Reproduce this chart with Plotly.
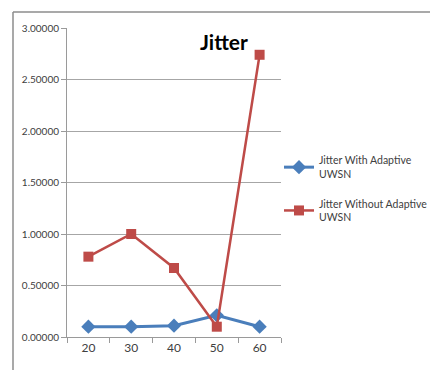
import plotly.graph_objects as go

# Node counts on the x axis and jitter values per series
nodes = ["20", "30", "40", "50", "60"]
jitter_adaptive = [0.10, 0.10, 0.11, 0.21, 0.10]
jitter_without = [0.78, 1.00, 0.67, 0.10, 2.74]
y_ticks = [0.0, 0.5, 1.0, 1.5, 2.0, 2.5, 3.0]

W, H = 430, 370
FONT = "Lato, Open Sans, sans-serif"

# plot-area pixel box
px_left, px_right = 67, 281
px_top, px_bottom = 28, 337

idx = list(range(len(nodes)))

fig = go.Figure()
fig.add_trace(go.Scatter(
    x=idx, y=jitter_adaptive, mode="lines+markers",
    name="Jitter With Adaptive<br>UWSN", legendgroup="a",
    line=dict(color="#4A7EBB", width=3),
    marker=dict(symbol="diamond", size=11, color="#4A7EBB"),
))
fig.add_trace(go.Scatter(
    x=idx, y=jitter_without, mode="lines+markers",
    name="Jitter Without Adaptive<br>UWSN", legendgroup="b",
    line=dict(color="#BE4B48", width=2.5),
    marker=dict(symbol="square", size=10, color="#BE4B48"),
))

fig.update_layout(
    width=W, height=H,
    margin=dict(l=0, r=0, t=0, b=0, autoexpand=False),
    paper_bgcolor="white", plot_bgcolor="white",
    font=dict(family=FONT, size=11, color="#404040"),
    showlegend=True,
    legend=dict(
        x=279 / W, y=1 - 147 / H, xanchor="left", yanchor="top",
        font=dict(family=FONT, size=10.5, color="#404040"),
        tracegroupgap=13, itemwidth=30, bgcolor="rgba(0,0,0,0)",
        borderwidth=0,
    ),
    xaxis=dict(
        domain=[px_left / W, px_right / W],
        range=[-0.5, len(nodes) - 0.5],
        tickmode="array", tickvals=idx, ticktext=nodes,
        ticks="", showgrid=False, zeroline=False,
        showline=True, linecolor="#9A9A9A", linewidth=1,
        tickfont=dict(size=12, color="#404040"),
        minor=dict(tickmode="array", tickvals=[i - 0.5 for i in range(len(nodes) + 1)],
                   ticks="outside", ticklen=5, tickcolor="#9A9A9A", showgrid=False),
        fixedrange=True,
    ),
    yaxis=dict(
        domain=[1 - px_bottom / H, 1 - px_top / H],
        range=[0, 3],
        tickmode="array", tickvals=y_ticks,
        ticktext=[f"{v:.5f}" for v in y_ticks],
        ticks="outside", ticklen=5, tickcolor="#9A9A9A",
        showgrid=True, gridcolor="#A6A6A6", gridwidth=1,
        zeroline=False, showline=True, linecolor="#9A9A9A", linewidth=1,
        tickfont=dict(size=10, color="#404040"),
        fixedrange=True,
    ),
    annotations=[dict(
        text="<b>Jitter</b>", x=224 / W, y=1 - 42 / H, xref="paper", yref="paper",
        xanchor="center", yanchor="middle", showarrow=False,
        font=dict(family=FONT, size=21, color="#000000"),
    )],
    shapes=[
        dict(type="line", xref="paper", yref="paper", x0=13 / W, x1=13 / W,
             y0=0, y1=1 - 12 / H, line=dict(color="#8C8C8C", width=1.5)),
        dict(type="line", xref="paper", yref="paper", x0=13 / W, x1=1.02,
             y0=1 - 12 / H, y1=1 - 12 / H, line=dict(color="#8C8C8C", width=1.5)),
    ],
)

fig.write_html("out.html", config={"displayModeBar": False})
